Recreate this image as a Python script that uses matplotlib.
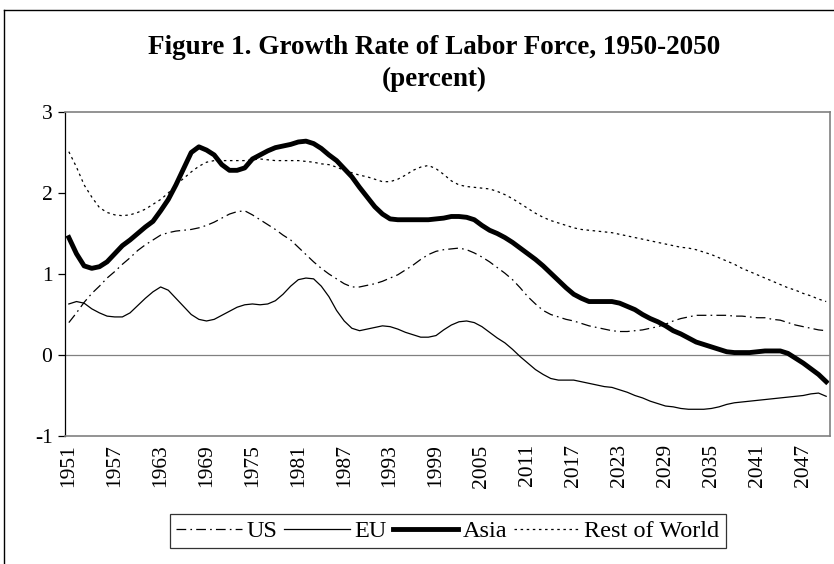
import matplotlib
matplotlib.use("Agg")
import matplotlib.pyplot as plt
from matplotlib.lines import Line2D
import numpy as np

plt.rcParams['font.family'] = ['Liberation Serif', 'DejaVu Serif']
plt.rcParams['lines.scale_dashes'] = False

years = list(range(1951, 2051))
tick_labels = [str(y) for y in range(1951, 2051, 6)]

us = [0.40, 0.52, 0.65, 0.76, 0.85, 0.95, 1.03, 1.12, 1.20, 1.29,
      1.36, 1.42, 1.48, 1.51, 1.53, 1.54, 1.55, 1.57, 1.60, 1.64,
      1.69, 1.74, 1.77, 1.78, 1.73, 1.67, 1.61, 1.55, 1.48, 1.42,
      1.33, 1.24, 1.15, 1.07, 1.00, 0.94, 0.88, 0.84, 0.84, 0.86,
      0.88, 0.91, 0.95, 0.99, 1.05, 1.11, 1.18, 1.24, 1.28, 1.30,
      1.31, 1.32, 1.30, 1.26, 1.21, 1.15, 1.08, 1.01, 0.93, 0.83,
      0.72, 0.63, 0.55, 0.50, 0.47, 0.44, 0.42, 0.39, 0.36, 0.34,
      0.32, 0.30, 0.29, 0.29, 0.30, 0.31, 0.33, 0.35, 0.38, 0.42,
      0.45, 0.47, 0.49, 0.49, 0.49, 0.49, 0.49, 0.48, 0.48, 0.47,
      0.46, 0.46, 0.44, 0.43, 0.40, 0.37, 0.35, 0.33, 0.31, 0.30]

eu = [0.63, 0.66, 0.64, 0.57, 0.52, 0.48, 0.47, 0.47, 0.52, 0.61,
      0.70, 0.78, 0.84, 0.80, 0.70, 0.60, 0.50, 0.44, 0.42, 0.44,
      0.49, 0.54, 0.59, 0.62, 0.63, 0.62, 0.63, 0.67, 0.75, 0.85,
      0.93, 0.95, 0.94, 0.85, 0.72, 0.55, 0.42, 0.33, 0.30, 0.32,
      0.34, 0.36, 0.35, 0.32, 0.28, 0.25, 0.22, 0.22, 0.24, 0.31,
      0.37, 0.41, 0.42, 0.40, 0.35, 0.28, 0.21, 0.15, 0.07, -0.02,
      -0.10, -0.18, -0.24, -0.29, -0.31, -0.31, -0.31, -0.33, -0.35, -0.37,
      -0.39, -0.40, -0.43, -0.46, -0.50, -0.53, -0.57, -0.60, -0.63, -0.64,
      -0.66, -0.67, -0.67, -0.67, -0.66, -0.64, -0.61, -0.59, -0.58, -0.57,
      -0.56, -0.55, -0.54, -0.53, -0.52, -0.51, -0.50, -0.48, -0.47, -0.51]

asia = [1.45, 1.25, 1.10, 1.07, 1.09, 1.15, 1.25, 1.35, 1.42, 1.50,
        1.58, 1.65, 1.78, 1.92, 2.10, 2.30, 2.50, 2.57, 2.53, 2.47,
        2.35, 2.28, 2.28, 2.31, 2.42, 2.47, 2.52, 2.56, 2.58, 2.60,
        2.63, 2.64, 2.61, 2.55, 2.47, 2.40, 2.30, 2.20, 2.07, 1.95,
        1.83, 1.74, 1.68, 1.67, 1.67, 1.67, 1.67, 1.67, 1.68, 1.69,
        1.71, 1.71, 1.70, 1.67, 1.60, 1.54, 1.50, 1.45, 1.39, 1.32,
        1.25, 1.18, 1.10, 1.01, 0.92, 0.83, 0.75, 0.70, 0.66, 0.66,
        0.66, 0.66, 0.64, 0.60, 0.56, 0.50, 0.45, 0.41, 0.36, 0.30,
        0.26, 0.21, 0.16, 0.13, 0.10, 0.07, 0.04, 0.03, 0.03, 0.03,
        0.04, 0.05, 0.05, 0.05, 0.02, -0.04, -0.10, -0.17, -0.24, -0.33]

row = [2.51, 2.32, 2.10, 1.95, 1.82, 1.76, 1.73, 1.72, 1.73, 1.76,
       1.80, 1.86, 1.92, 2.00, 2.10, 2.18, 2.26, 2.33, 2.38, 2.40,
       2.40, 2.40, 2.40, 2.40, 2.41, 2.42, 2.41, 2.40, 2.40, 2.40,
       2.40, 2.39, 2.38, 2.36, 2.35, 2.32, 2.28, 2.25, 2.22, 2.20,
       2.17, 2.14, 2.14, 2.17, 2.22, 2.28, 2.32, 2.34, 2.30, 2.23,
       2.15, 2.10, 2.08, 2.07, 2.06, 2.05, 2.02, 1.98, 1.93, 1.87,
       1.81, 1.75, 1.70, 1.66, 1.63, 1.60, 1.57, 1.55, 1.54, 1.53,
       1.52, 1.51, 1.49, 1.47, 1.45, 1.43, 1.41, 1.39, 1.37, 1.35,
       1.33, 1.32, 1.30, 1.27, 1.24, 1.20, 1.16, 1.12, 1.07, 1.03,
       0.99, 0.95, 0.91, 0.87, 0.83, 0.80, 0.76, 0.73, 0.69, 0.66]

W, H = 834, 564
fig = plt.figure(figsize=(W / 100, H / 100), dpi=100)
ax = fig.add_axes([65 / W, 1 - 436 / H, (830 - 65) / W, (436 - 112) / H])

x = np.arange(len(years))
ax.plot(x, us, color='black', lw=0.9, linestyle=(0, (7, 3, 1.2, 3)), label='US')
ax.plot(x, eu, color='black', lw=0.9, linestyle='-', label='EU')
ax.plot(x, asia, color='black', lw=3.5, linestyle='-', label='Asia', solid_joinstyle='round')
ax.plot(x, row, color='black', lw=0.9, linestyle=(0, (1.8, 2.6)), label='Rest of World')

ax.axhline(0, color='#808080', lw=0.9, zorder=1)
ax.set_xlim(-0.5, len(years) - 0.5)
ax.set_ylim(-1, 3)
ax.set_yticks([-1, 0, 1, 2, 3])
ax.set_yticklabels(['-1', '0', '1', '2', '3'])
ax.set_xticks(np.arange(0, len(years), 6))
ax.set_xticklabels(tick_labels, rotation=90)
ax.tick_params(axis='x', length=0, pad=6, labelsize=15.5)
ax.tick_params(axis='y', length=5, width=0.9, direction='out', pad=4, labelsize=15.5)

for s in ['top', 'right', 'bottom']:
    ax.spines[s].set_color('#808080')
    ax.spines[s].set_linewidth(1.2)
ax.spines['left'].set_color('black')
ax.spines['left'].set_linewidth(0.9)

fig.text(434 / W, 1 - 47 / H, 'Figure 1. Growth Rate of Labor Force, 1950-2050',
         ha='center', va='center', fontsize=19.5, fontweight='bold')
fig.text(434 / W, 1 - 79 / H, '(percent)', ha='center', va='center',
         fontsize=19.5, fontweight='bold')

leg = fig.legend(loc='center', bbox_to_anchor=(448 / W, 1 - 531 / H), ncol=4,
                 frameon=True, fancybox=False, fontsize=17.5, handlelength=2.7,
                 handletextpad=0.2, columnspacing=0.25, borderpad=0.25,
                 borderaxespad=0, edgecolor='black')
leg.get_frame().set_linewidth(0.9)

# figure border
fig.add_artist(Line2D([4 / W, 4 / W], [0, 1 - 10 / H], transform=fig.transFigure,
                      color='black', lw=1.0))
fig.add_artist(Line2D([4 / W, 1], [1 - 10 / H, 1 - 10 / H], transform=fig.transFigure,
                      color='black', lw=1.0))

fig.savefig('out.png', dpi=100)
